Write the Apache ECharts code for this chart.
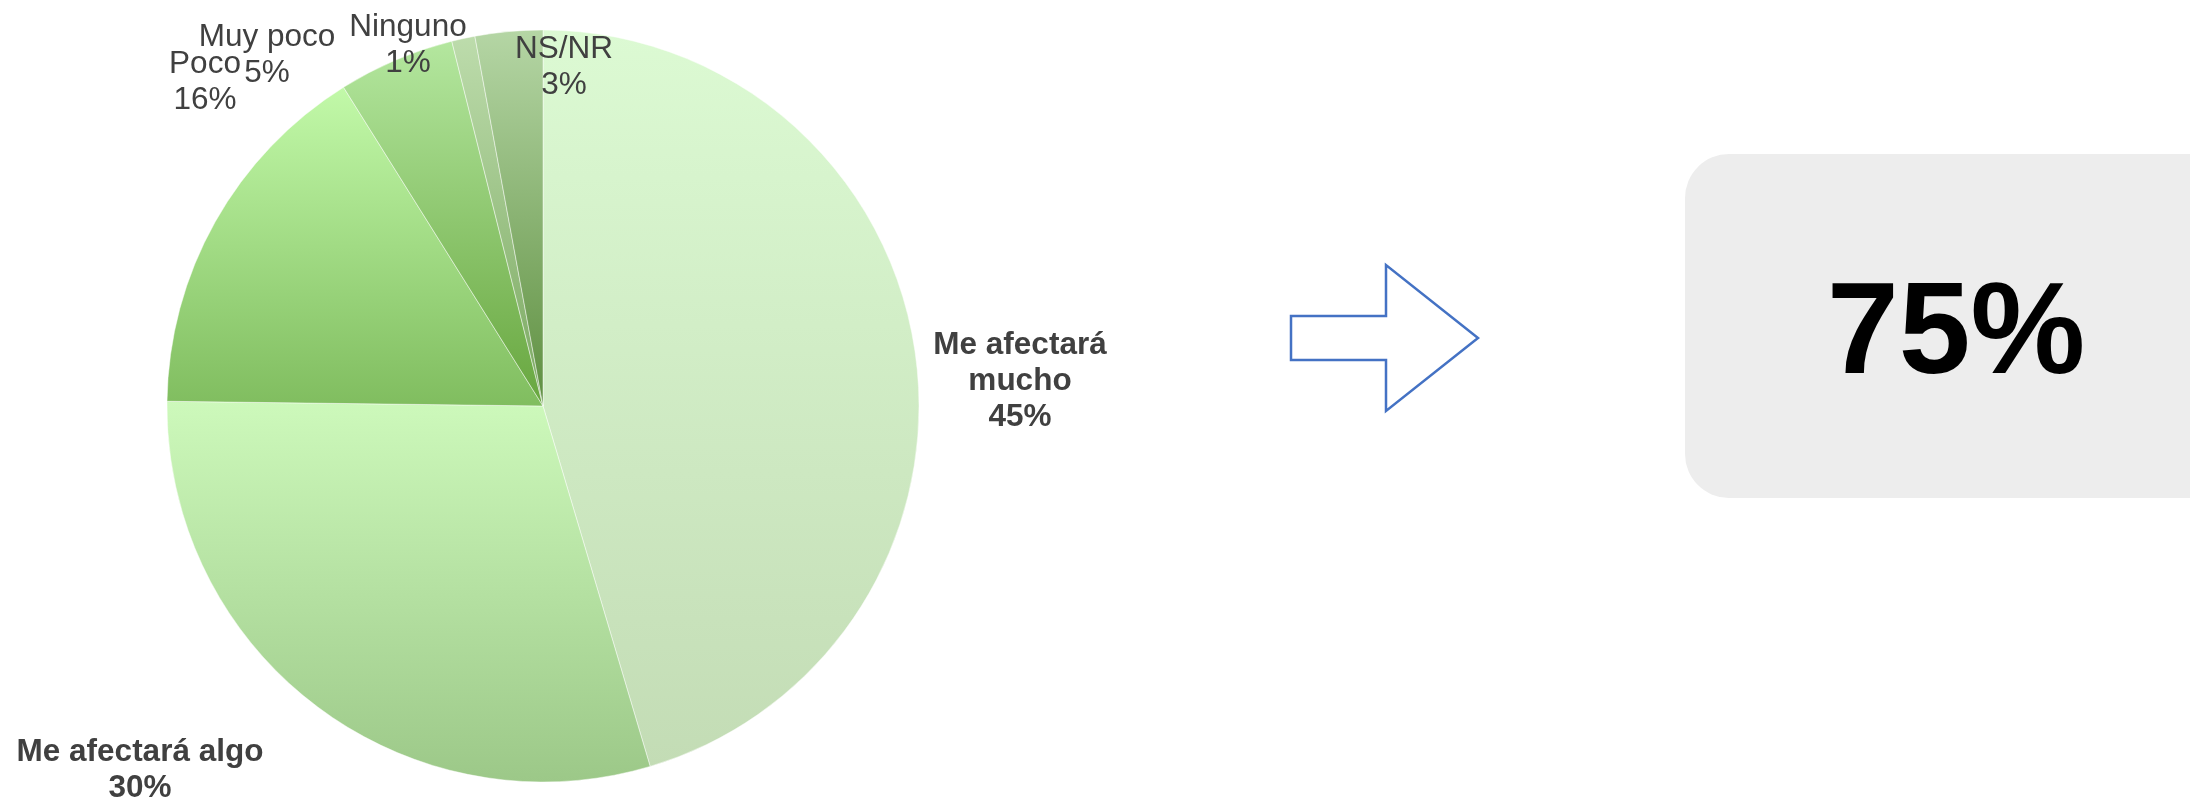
<!DOCTYPE html>
<html>
<head>
<meta charset="utf-8">
<script src="https://cdn.jsdelivr.net/npm/echarts@6/dist/echarts.min.js"></script>
<style>
html,body{margin:0;padding:0;background:#fff;}
#c{width:2190px;height:797px;}
</style>
</head>
<body>
<div id="c"></div>
<script>
// ---- data ----
const categories = ['Me afectará mucho', 'Me afectará algo', 'Poco', 'Muy poco', 'Ninguno', 'NS/NR'];
const values = [45.4, 29.8, 15.9, 5.0, 1.0, 2.9];
const highlightCount = 2; // first two categories summed in the box
// ---- styles ----
const gradients = [
  ['#dcfad3', '#c3dcb5'],
  ['#cdf9bb', '#9cc888'],
  ['#c2f9a9', '#80bd5f'],
  ['#b4e79f', '#67a63e'],
  ['#bddcac', '#7aa860'],
  ['#b5d6a5', '#5e8f40']
];
const boldLabel = [true, true, false, false, false, false];
const labelPos = [[1020, 381], [140, 770], [205, 82], [267, 55], [408, 45], [564, 67]];
const lineBreaks = ['Me afectará\nmucho', 'Me afectará algo', 'Poco', 'Muy poco', 'Ninguno', 'NS/NR'];

const chart = echarts.init(document.getElementById('c'), null, {renderer: 'canvas'});
const total = values.reduce((a, b) => a + b, 0);
const highlight = Math.round(values.slice(0, highlightCount).reduce((a, b) => a + b, 0) / total * 100);

const data = categories.map((name, i) => ({
  name: name,
  value: values[i],
  itemStyle: {
    color: new echarts.graphic.LinearGradient(0, 0, 0, 1, [
      {offset: 0, color: gradients[i][0]},
      {offset: 1, color: gradients[i][1]}
    ])
  },
  label: {fontWeight: boldLabel[i] ? 'bold' : 'normal'}
}));

chart.setOption({
  animation: false,
  backgroundColor: '#ffffff',
  series: [{
    type: 'pie',
    center: [543, 406],
    radius: [0, 376],
    startAngle: 90,
    clockwise: true,
    data: data,
    itemStyle: {borderColor: 'rgba(255,255,255,0.45)', borderWidth: 1},
    label: {
      show: true,
      position: 'outside',
      fontFamily: 'Liberation Sans, Arial, sans-serif',
      fontSize: 31.5,
      lineHeight: 36,
      color: '#404040',
      align: 'center',
      formatter: p => lineBreaks[p.dataIndex] + '\n' + Math.round(p.value / total * 100) + '%'
    },
    labelLine: {show: false},
    labelLayout: p => ({
      x: labelPos[p.dataIndex][0],
      y: labelPos[p.dataIndex][1],
      align: 'center',
      verticalAlign: 'middle'
    }),
    emphasis: {disabled: true}
  }],
  graphic: [
    {
      type: 'polygon',
      shape: {points: [[1291, 316], [1386, 316], [1386, 265], [1478, 338], [1386, 411], [1386, 360], [1291, 360]]},
      style: {fill: '#ffffff', stroke: '#4472c4', lineWidth: 2.5}
    },
    {
      type: 'rect',
      shape: {x: 1685, y: 154, width: 560, height: 344, r: 44},
      style: {fill: '#ededed'}
    },
    {
      type: 'text',
      x: 1956,
      y: 337,
      style: {
        text: highlight + '%',
        fontFamily: 'Liberation Sans, Arial, sans-serif',
        fontSize: 129,
        fontWeight: 'bold',
        fill: '#000000',
        align: 'center',
        verticalAlign: 'middle'
      }
    }
  ]
});
</script>
</body>
</html>
